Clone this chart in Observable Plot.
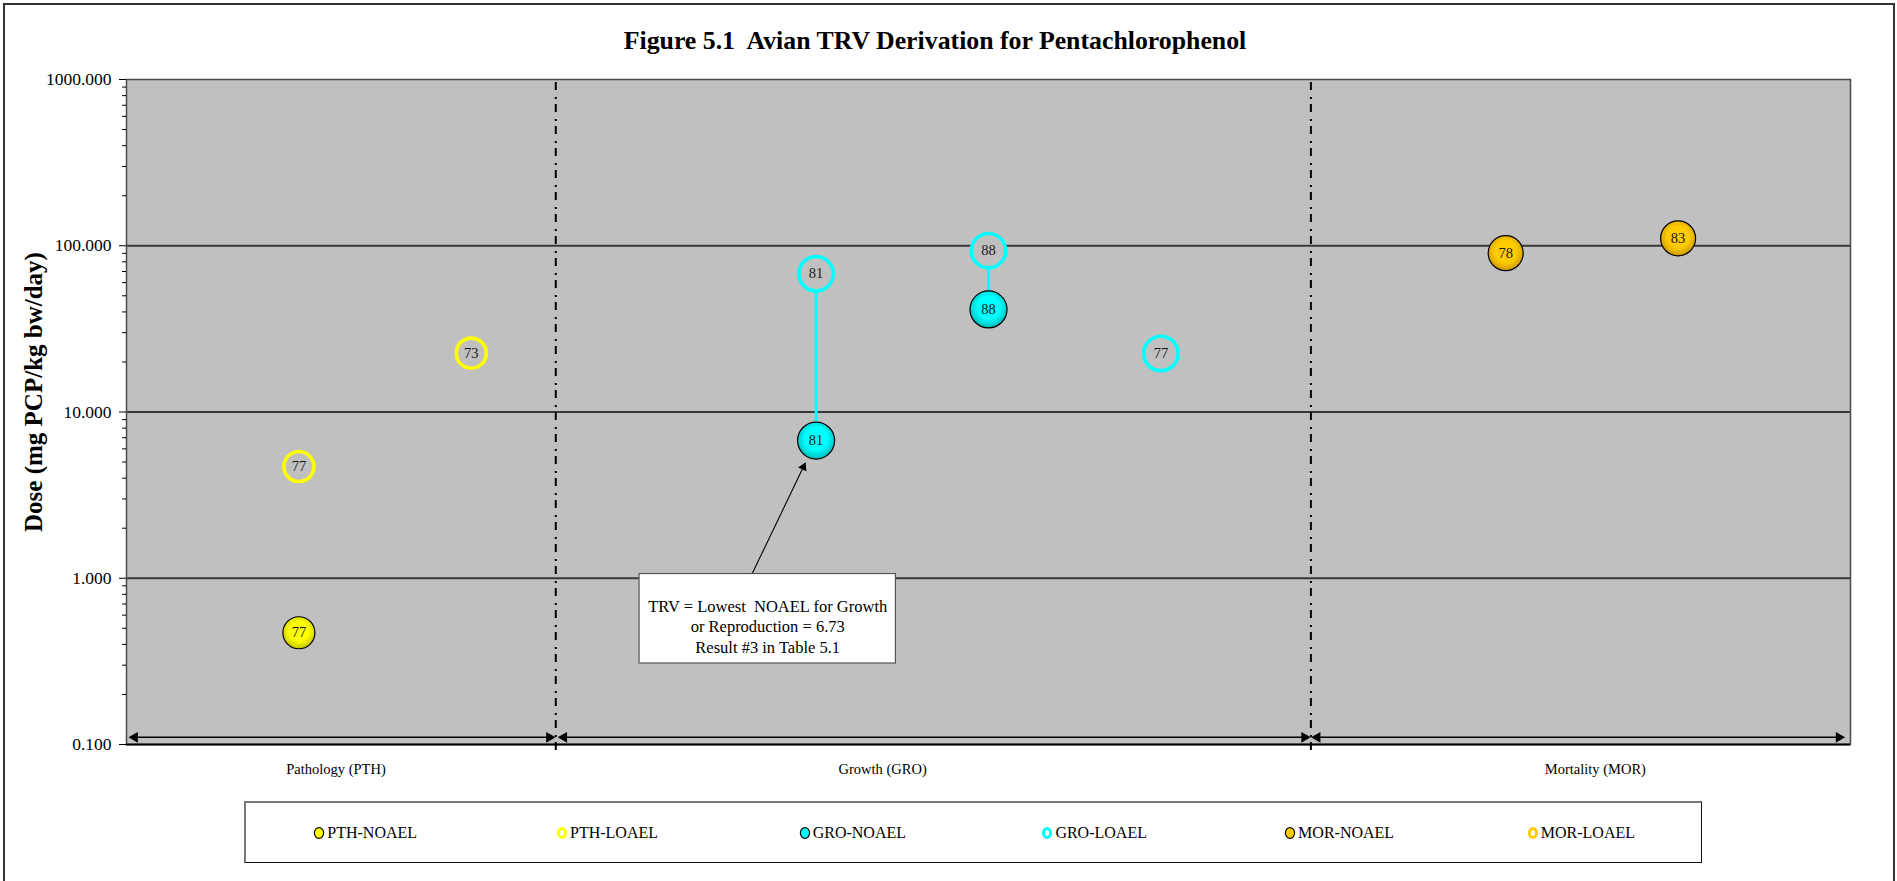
<!DOCTYPE html>
<html>
<head>
<meta charset="utf-8">
<script src="https://cdn.jsdelivr.net/npm/d3@7"></script>
<script src="https://cdn.jsdelivr.net/npm/@observablehq/plot@0.6"></script>
<style>
  html, body { margin: 0; padding: 0; background: #fff; overflow: hidden; }
  #page { position: relative; width: 1897px; height: 881px; font-family: "Liberation Serif", "Times New Roman", serif; color: #000; }
  #border { position: absolute; left: 3px; top: 3px; right: 2px; height: 920px; border: 2px solid #333; box-sizing: border-box; }
  #chart { position: absolute; left: 0; top: 0; }
  #chart svg text { white-space: pre; }
  #title { position: absolute; left: 0; width: 1870px; top: 26px; line-height: 30px; text-align: center; font-weight: bold; font-size: 25.8px; white-space: pre; }
  #ytitle { position: absolute; left: 34px; top: 392px; transform: translate(-50%, -50%) rotate(-90deg); font-weight: bold; font-size: 25px; white-space: nowrap; }
  #legend { position: absolute; left: 244px; top: 801px; width: 1458px; height: 62px; box-sizing: border-box; border-top: 2px solid #777; border-left: 2px solid #777; border-right: 1.5px solid #111; border-bottom: 1.5px solid #111; background: #fff; }
  .litem { position: absolute; top: 0; height: 100%; display: flex; align-items: center; font-size: 16px; white-space: nowrap; }
  .litem svg { margin-right: 1px; }
</style>
</head>
<body>
<div id="page">
  <div id="border"></div>
  <div id="chart"></div>
  <div id="title"></div>
  <div id="ytitle"></div>
  <div id="legend"></div>
</div>
<script>
// ---------------- data ----------------
const chartTitle = "Figure 5.1  Avian TRV Derivation for Pentachlorophenol";
const yTitle = "Dose (mg PCP/kg bw/day)";

const seriesNames  = ["PTH-NOAEL", "PTH-LOAEL", "GRO-NOAEL", "GRO-LOAEL", "MOR-NOAEL", "MOR-LOAEL"];
const seriesColors = ["#FFFF00",   "#FFFF00",   "#00FFFF",   "#00FFFF",   "#FFCC00",   "#FFCC00"];

// each plotted result
const pointSeries = ["PTH-NOAEL", "PTH-LOAEL", "PTH-LOAEL", "GRO-NOAEL", "GRO-LOAEL", "GRO-NOAEL", "GRO-LOAEL", "GRO-LOAEL", "MOR-NOAEL", "MOR-NOAEL"];
const pointX      = [1, 1, 2, 4, 4, 5, 5, 6, 8, 9];
const pointDose   = [0.47, 4.7, 22.6, 6.73, 67.9, 41.4, 93.4, 22.5, 90.3, 110.8];
const pointStudy  = ["77", "77", "73", "81", "81", "88", "88", "77", "78", "83"];

const yTicks = [0.1, 1, 10, 100, 1000];
const yGrid = [1, 10, 100];
const groupLabels = ["Pathology (PTH)", "Growth (GRO)", "Mortality (MOR)"];
const linkedGroups = ["GRO"];
const trvValue = 6.73;
const trvText = "TRV = Lowest  NOAEL for Growth\nor Reproduction = " + trvValue + "\nResult #3 in Table 5.1";

// ---------------- layout (positions in chart units) ----------------
const dividerX = [2.49, 6.87];
const groupSpans = [[0.03, 2.47], [2.52, 6.85], [6.89, 9.95]];
const spanY = 0.1105;
const groupLabelX = [1.215, 4.386, 8.52];
const annotationBox = {left: 2.976, right: 4.463, bottom: 0.307, top: 1.06, anchorX: 3.628};

// ---------------- styles ----------------
const groupOf = s => s.split("-")[0];
const radius = {
  "PTH-NOAEL": 16, "PTH-LOAEL": 15,
  "GRO-NOAEL": 18.5, "GRO-LOAEL": 17.2,
  "MOR-NOAEL": 17.5, "MOR-LOAEL": 17
};
const darkShade = {"#FFFF00": "#B5B500", "#00FFFF": "#00A5A5", "#FFCC00": "#C08C00"};
const colorOf = s => seriesColors[seriesNames.indexOf(s)];
const gradId = c => "grad" + c.slice(1);
const serif = "Liberation Serif";
const arrowInset = 24;

// ---------------- build rows ----------------
const rows = pointX.map((x, i) => ({x, dose: pointDose[i], series: pointSeries[i], study: pointStudy[i]}));
const links = [];
for (const r of rows) {
  if (!r.series.endsWith("NOAEL") || !linkedGroups.includes(groupOf(r.series))) continue;
  const lo = rows.find(o => o.series === groupOf(r.series) + "-LOAEL" && o.x === r.x && o.study === r.study);
  if (lo) links.push({x: r.x, y1: r.dose, y2: lo.dose, color: colorOf(r.series)});
}
const trvPoint = rows.filter(r => r.series === "GRO-NOAEL").reduce((a, b) => (b.dose < a.dose ? b : a));
const heads = groupSpans.flatMap(s => [{x: s[0], dir: -1}, {x: s[1], dir: 1}]);
const minorTicks = d3.range(-1, 3).flatMap(e => d3.range(2, 10).map(m => m * Math.pow(10, e)));

function build(arrowHead) {
  const marks = [
    Plot.frame({fill: "#C0C0C0", stroke: null}),
    Plot.ruleY(yGrid, {stroke: "#383838", strokeWidth: 2}),
    Plot.frame({stroke: "#4a4a4a", strokeWidth: 1.5}),
    Plot.ruleY([0.1], {stroke: "#000", strokeWidth: 2}),
    Plot.ruleX(dividerX, {y1: 0.092, y2: 1000, stroke: "#000", strokeWidth: 2, strokeDasharray: "8,5,2,7"}),
    Plot.link(groupSpans, {x1: d => d[0], x2: d => d[1], y1: () => spanY, y2: () => spanY, stroke: "#000", strokeWidth: 1.5}),
    Plot.dot(heads.filter(h => h.dir < 0), {x: "x", y: () => spanY, symbol: "triangle", r: 4, fill: "#000", stroke: null, rotate: -90, dx: 3}),
    Plot.dot(heads.filter(h => h.dir > 0), {x: "x", y: () => spanY, symbol: "triangle", r: 4, fill: "#000", stroke: null, rotate: 90, dx: -3}),
    Plot.axisY({ticks: yTicks, tickFormat: d3.format(".3f"), tickSize: 7, tickPadding: 8, label: null, fontSize: 17.5}),
    Plot.axisY({ticks: minorTicks, tickFormat: () => "", tickSize: 4, label: null}),
    Plot.link(links, {x1: "x", x2: "x", y1: "y1", y2: "y2", stroke: d => d.color, strokeWidth: 3}),
  ];
  for (const s of seriesNames) {
    const data = rows.filter(r => r.series === s);
    if (!data.length) continue;
    const c = colorOf(s);
    if (s.endsWith("LOAEL")) {
      marks.push(Plot.dot(data, {x: "x", y: "dose", r: () => radius[s], fill: "#C0C0C0", stroke: c, strokeWidth: 3.6}));
    } else {
      marks.push(Plot.dot(data, {x: "x", y: "dose", r: () => radius[s], fill: `url(#${gradId(c)})`, stroke: "#000", strokeWidth: 1.2}));
    }
  }
  marks.push(
    Plot.text(rows, {x: "x", y: "dose", text: "study", fontSize: 14.5, fill: "#1a1a1a", fontFamily: serif}),
    Plot.text(groupLabels, {x: (d, i) => groupLabelX[i], y: () => 0.1, text: d => d, dy: 25, fontSize: 14.5, fill: "#000", fontFamily: serif}),
    Plot.arrow([annotationBox], {x1: "anchorX", y1: "top", x2: () => trvPoint.x, y2: () => trvPoint.dose, insetEnd: arrowInset + 4, headLength: 0, stroke: "#000", strokeWidth: 1.1}),
    Plot.rect([annotationBox], {x1: "left", x2: "right", y1: "bottom", y2: "top", fill: "#fff", stroke: "#555", strokeWidth: 1.2}),
    Plot.text([annotationBox], {x: d => (d.left + d.right) / 2, y: d => Math.sqrt(d.bottom * d.top), text: () => trvText, dy: 7, lineHeight: 1.25, fontSize: 16.5, fill: "#000", fontFamily: serif})
  );
  if (arrowHead) {
    marks.push(Plot.dot([trvPoint], {x: "x", y: "dose", symbol: "triangle", r: 3.4, fill: "#000", stroke: null,
      rotate: arrowHead.angle, dx: arrowHead.dx, dy: arrowHead.dy}));
  }
  return Plot.plot({
    width: 1897,
    height: 881,
    marginLeft: 126,
    marginRight: 47,
    marginTop: 79,
    marginBottom: 137,
    style: {fontFamily: serif, fontSize: "17.5px", color: "#000", background: "transparent", overflow: "visible"},
    x: {domain: [0, 10], axis: null},
    y: {type: "log", domain: [0.1, 1000]},
    r: {type: "identity"},
    marks
  });
}

// first pass to get the scales for the filled annotation arrowhead direction
const probe = build(null);
const sx = probe.scale("x"), sy = probe.scale("y");
const px0 = sx.apply(annotationBox.anchorX), py0 = sy.apply(annotationBox.top);
const px1 = sx.apply(trvPoint.x), py1 = sy.apply(trvPoint.dose);
const len = Math.hypot(px1 - px0, py1 - py0);
const ux = (px1 - px0) / len, uy = (py1 - py0) / len;
const back = arrowInset + 5.3;
const chart = build({angle: Math.atan2(ux, -uy) * 180 / Math.PI, dx: -ux * back, dy: -uy * back});

// radial gradients for the filled markers
const defs = d3.select(chart).insert("defs", ":first-child");
for (const c of new Set(seriesColors)) {
  const g = defs.append("radialGradient").attr("id", gradId(c)).attr("cx", "50%").attr("cy", "45%").attr("r", "55%");
  g.append("stop").attr("offset", "0%").attr("stop-color", c);
  g.append("stop").attr("offset", "55%").attr("stop-color", c);
  g.append("stop").attr("offset", "85%").attr("stop-color", d3.interpolateRgb(c, darkShade[c])(0.5));
  g.append("stop").attr("offset", "100%").attr("stop-color", darkShade[c]);
}
document.getElementById("chart").appendChild(chart);

document.getElementById("title").textContent = chartTitle;
document.getElementById("ytitle").textContent = yTitle;

// legend
const legend = d3.select("#legend");
seriesNames.forEach((s, i) => {
  const item = legend.append("div").attr("class", "litem").style("left", (317.3 - 244 - 7 + i * 242.7) + "px");
  const sv = item.append("svg").attr("width", 14).attr("height", 16);
  const c = seriesColors[i];
  if (s.endsWith("LOAEL")) {
    sv.append("ellipse").attr("cx", 7).attr("cy", 8).attr("rx", 3.6).attr("ry", 4.4).attr("fill", "#fff").attr("stroke", c).attr("stroke-width", 3);
  } else {
    sv.append("ellipse").attr("cx", 7).attr("cy", 8).attr("rx", 4.6).attr("ry", 5.4).attr("fill", c).attr("stroke", "#000").attr("stroke-width", 1.2);
  }
  item.append("span").text(s);
});
</script>
</body>
</html>
